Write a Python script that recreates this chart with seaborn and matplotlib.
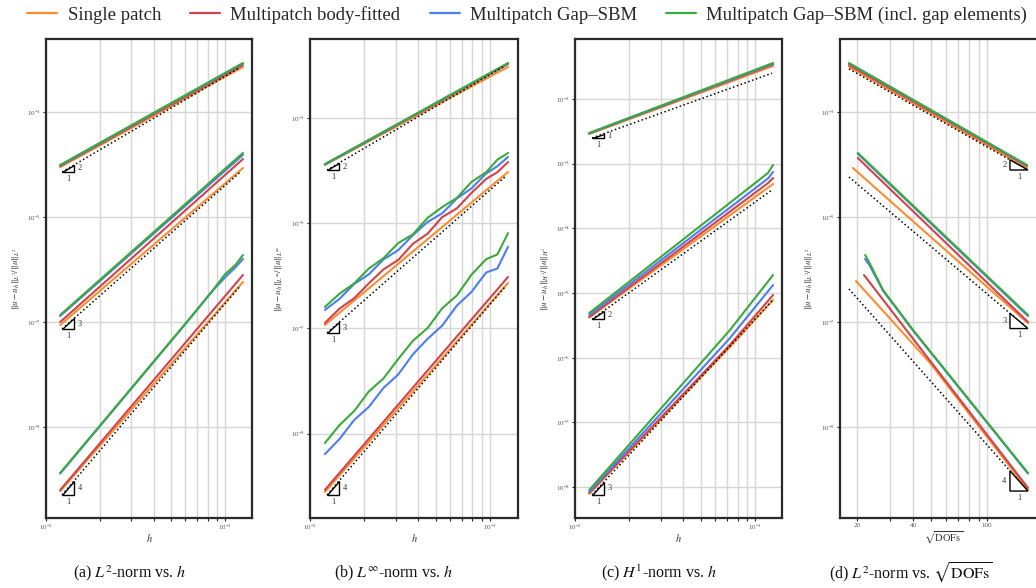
import matplotlib
matplotlib.use("Agg")
import matplotlib.pyplot as plt
import seaborn as sns
from matplotlib.lines import Line2D
from matplotlib.patches import Polygon
from matplotlib.ticker import FixedLocator, FixedFormatter, NullFormatter, NullLocator

W, H, DPI = 1036, 588, 100

sns.set_theme(style="whitegrid")
plt.rcParams["font.family"] = ["Liberation Serif", "DejaVu Serif"]
plt.rcParams["mathtext.fontset"] = "stix"

METHODS = ["Single patch", "Multipatch body-fitted", "Multipatch Gap–SBM",
           "Multipatch Gap–SBM (incl. gap elements)"]
COLORS = ["#ff8c2e", "#d2434b", "#4c7df5", "#3baa3b"]

# ---------------- (a) relative L2 error vs h ----------------
a_h = [0.012, 0.126]
a1_single = [8.91e-5, 7.19e-3]
a1_body = [9.33e-5, 7.85e-3]
a1_gap = [9.60e-5, 8.40e-3]
a1_gapel = [9.77e-5, 8.57e-3]
a2_single = [8.77e-8, 8.57e-5]
a2_body = [1.00e-7, 1.27e-4]
a2_gap = [1.30e-7, 1.52e-4]
a2_gapel = [1.36e-7, 1.66e-4]
a3_single = [6.03e-11, 5.78e-7]
a3_body = [6.31e-11, 7.85e-7]
a3_h_fine = [0.012, 0.030, 0.060, 0.0857, 0.100, 0.115, 0.126]
a3_gap = [1.30e-10, 5.40e-9, 9.10e-8, 4.00e-7, 7.05e-7, 1.12e-6, 1.585e-6]
a3_gapel = [1.33e-10, 5.52e-9, 9.23e-8, 4.07e-7, 8.09e-7, 1.247e-6, 1.888e-6]
a_ref_h = [0.01229, 0.1213]
a1_ref = [7.19e-5, 7.02e-3]
a2_ref = [7.36e-8, 7.08e-5]
a3_ref = [5.07e-11, 4.81e-7]

# ---------------- (b) relative Linf error vs h ----------------
b_h = [0.0121, 0.126]
b_h_fine = [0.0121, 0.0146, 0.0176, 0.0212, 0.0256, 0.0309, 0.0373,
            0.0450, 0.0543, 0.0655, 0.0790, 0.0953, 0.1100, 0.1260]
b1_single = [1.29e-4, 9.33e-3]
b1_body = [1.30e-4, 1.06e-2]
b1_gap = [1.31e-4, 1.09e-2]
b1_gapel = [1.33e-4, 1.11e-2]
b2_single = [1.16e-7, 9.40e-5]
b2_body = [1.268e-7, 2.382e-7, 3.741e-7, 7.145e-7, 1.324e-6, 1.995e-6, 4.055e-6,
           6.310e-6, 1.309e-5, 1.914e-5, 3.776e-5, 6.950e-5, 9.311e-5, 1.455e-4]
b2_gap = [2.239e-7, 3.648e-7, 6.998e-7, 1.059e-6, 2.046e-6, 3.069e-6, 5.916e-6,
          1.052e-5, 1.542e-5, 2.951e-5, 4.603e-5, 8.831e-5, 1.211e-4, 1.816e-4]
b2_gapel = [2.553e-7, 4.571e-7, 7.161e-7, 1.371e-6, 2.158e-6, 4.178e-6, 6.138e-6,
            1.259e-5, 2.028e-5, 3.027e-5, 6.095e-5, 9.310e-5, 1.614e-4, 2.163e-4]
b3_single = [7.76e-11, 7.30e-7]
b3_body = [8.51e-11, 9.48e-7]
b3_gap = [4.074e-10, 7.907e-10, 1.816e-9, 3.199e-9, 7.379e-9, 1.324e-8, 3.199e-8,
          6.324e-8, 1.132e-7, 2.716e-7, 4.943e-7, 1.156e-6, 1.377e-6, 3.548e-6]
b3_gapel = [6.607e-10, 1.455e-9, 2.685e-9, 6.295e-9, 1.117e-8, 2.606e-8, 5.808e-8,
            1.012e-7, 2.415e-7, 4.236e-7, 1.052e-6, 2.070e-6, 2.547e-6, 6.457e-6]
b_ref_h = [0.01243, 0.1212]
b1_ref = [1.026e-4, 9.75e-3]
b2_ref = [8.19e-8, 7.59e-5]
b3_ref = [6.81e-11, 6.15e-7]

# ---------------- (c) relative H1 error vs h ----------------
c_h = [0.012, 0.126]
c1_single = [2.88e-3, 3.24e-2]
c1_body = [2.93e-3, 3.42e-2]
c1_gap = [2.95e-3, 3.50e-2]
c1_gapel = [2.98e-3, 3.60e-2]
c2_h = [0.012, 0.118, 0.126]
c2_single = [4.20e-6, 4.27e-4, 4.85e-4]
c2_body = [4.27e-6, 5.01e-4, 6.01e-4]
c2_gap = [4.59e-6, 5.89e-4, 7.45e-4]
c2_gapel = [4.92e-6, 7.18e-4, 9.55e-4]
c3_h = [0.012, 0.0726, 0.126]
c3_single = [7.90e-9, 1.469e-6, 7.82e-6]
c3_body = [8.13e-9, 1.585e-6, 9.33e-6]
c3_gap = [8.51e-9, 2.02e-6, 1.334e-5]
c3_gapel = [9.06e-9, 2.69e-6, 1.905e-5]
c_ref_h = [0.01243, 0.1243]
c1_ref = [2.50e-3, 2.50e-2]
c2_ref = [3.93e-6, 3.93e-4]
c3_ref = [7.59e-9, 7.59e-6]

# ---------------- (d) relative L2 error vs sqrt(DOFs) ----------------
d1_x = [18.1, 164.0]
d1_single = [7.19e-3, 8.57e-5]
d1_body = [7.85e-3, 9.33e-5]
d1_gap = [8.40e-3, 9.60e-5]
d1_gapel = [8.57e-3, 9.77e-5]
d2_x_single = [19.0, 166.0]
d2_x_multi = [20.2, 166.0]
d2_single = [8.57e-5, 9.55e-8]
d2_body = [1.33e-4, 1.00e-7]
d2_gap = [1.60e-4, 1.30e-7]
d2_gapel = [1.66e-4, 1.36e-7]
d3_x_single = [19.75, 49.4, 166.0]
d3_single = [6.03e-7, 1.66e-8, 6.31e-11]
d3_x_body = [21.8, 166.0]
d3_body = [7.85e-7, 6.92e-11]
d3_x_gap = [22.1, 23.3, 27.6, 40.0, 166.0]
d3_gap = [1.585e-6, 1.22e-6, 3.95e-7, 6.90e-8, 1.30e-10]
d3_x_gapel = [22.1, 23.2, 27.6, 40.0, 166.0]
d3_gapel = [1.888e-6, 1.39e-6, 4.07e-7, 7.05e-8, 1.33e-10]
d_ref_x = [18.1, 166.0]
d1_ref = [6.61e-3, 7.85e-5]
d2_ref = [5.78e-5, 7.50e-8]
d3_ref = [4.26e-7, 6.03e-11]

fig = plt.figure(figsize=(W / DPI, H / DPI), dpi=DPI)
fig.patch.set_facecolor("white")

TOP, BOTTOM = 39, 518


def add_axes_px(left, right):
    return fig.add_axes([left / W, 1 - BOTTOM / H, (right - left) / W, (BOTTOM - TOP) / H])


def line(ax, x, y, color):
    sns.lineplot(x=x, y=y, ax=ax, color=color, linewidth=1.5, estimator=None,
                 sort=False, legend=False, zorder=3)


def ref_line(ax, x, y):
    sns.lineplot(x=x, y=y, ax=ax, color="black", linewidth=1.1, linestyle=":",
                 estimator=None, sort=False, legend=False, zorder=4)


def triangle(ax, x, y, rate, factor, at_start=True):
    if at_start:
        x0, y0 = x[0], y[0]
        x1 = x0 * factor
        y1 = y0 * factor ** rate
        pts = [(x0, y0), (x1, y0), (x1, y1)]
        ax.annotate(str(rate), (x1, (y0 * y1) ** 0.5), xytext=(2.5, 0),
                    textcoords="offset points", ha="left", va="center",
                    fontsize=6, color="#333333", zorder=6)
    else:
        x0, y0 = x[-1], y[-1]
        xb = x0 / factor
        yb = y0 * factor ** rate
        pts = [(xb, y0), (x0, y0), (xb, yb)]
        ax.annotate(str(rate), (xb, (y0 * yb) ** 0.5), xytext=(-2.5, 0),
                    textcoords="offset points", ha="right", va="center",
                    fontsize=6, color="#333333", zorder=6)
    xm = (pts[0][0] * pts[1][0]) ** 0.5
    ax.annotate("1", (xm, y0), xytext=(0, -2), textcoords="offset points",
                ha="center", va="top", fontsize=6, color="#333333", zorder=6)
    ax.add_patch(Polygon(pts, closed=True, facecolor="white", edgecolor="black",
                         linewidth=1.0, zorder=5))


def style_axes(ax, xlim, ylim, yticks, ylabel, xlabel, width_px):
    ax.set_xscale("log")
    ax.set_yscale("log")
    ax.set_xlim(*xlim)
    ax.set_ylim(*ylim)
    ax.yaxis.set_major_locator(FixedLocator(yticks))
    ax.yaxis.set_minor_locator(NullLocator())
    ax.grid(False)
    ax.grid(True, which="major", axis="both", color="#d6d6d6", linewidth=1.0, zorder=0)
    ax.grid(True, which="minor", axis="x", color="#d6d6d6", linewidth=1.0, zorder=0)
    ax.set_axisbelow(True)
    for s in ax.spines.values():
        s.set_visible(True)
        s.set_color("#2a2a2a")
        s.set_linewidth(1.6)
    ax.tick_params(which="both", bottom=True, left=True, direction="out",
                   length=2.0, width=0.8, color="#222222",
                   labelsize=5, labelcolor="#555555", pad=1.5)
    ax.tick_params(axis="y", which="minor", left=False)
    ax.set_ylabel(ylabel, fontsize=6.5, color="#333333")
    ax.yaxis.label.set_verticalalignment("center")
    ax.yaxis.set_label_coords(-31 / width_px, 0.5)
    ax.set_xlabel(xlabel, fontsize=7.5, color="#333333")
    ax.xaxis.label.set_verticalalignment("center")
    ax.xaxis.set_label_coords(0.5, -20 / (BOTTOM - TOP))


def h_axis(ax):
    ax.xaxis.set_major_locator(FixedLocator([1e-2, 1e-1]))
    ax.xaxis.set_minor_locator(FixedLocator([k * 1e-2 for k in range(2, 10)]))
    ax.xaxis.set_minor_formatter(NullFormatter())


def draw_groups(ax, groups):
    for xs, ys in groups:
        for x, y, c in zip(xs, ys, COLORS):
            line(ax, x, y, c)


L2_LABEL = r"$\Vert u - u_h\Vert_{L^2}/\Vert u\Vert_{L^2}$"

# (a)
ax_a = add_axes_px(46, 252)
draw_groups(ax_a, [
    ([a_h] * 4, [a1_single, a1_body, a1_gap, a1_gapel]),
    ([a_h] * 4, [a2_single, a2_body, a2_gap, a2_gapel]),
    ([a_h, a_h, a3_h_fine, a3_h_fine], [a3_single, a3_body, a3_gap, a3_gapel]),
])
for r, ref in zip([2, 3, 4], [a1_ref, a2_ref, a3_ref]):
    ref_line(ax_a, a_ref_h, ref)
    triangle(ax_a, a_ref_h, ref, r, 10 ** (12 / 179))
style_axes(ax_a, (1e-2, 10 ** -0.849), (10 ** -10.733, 10 ** -1.61),
           [1e-9, 1e-7, 1e-5, 1e-3], L2_LABEL, r"$h$", 206)
h_axis(ax_a)

# (b)
ax_b = add_axes_px(310, 518)
draw_groups(ax_b, [
    ([b_h] * 4, [b1_single, b1_body, b1_gap, b1_gapel]),
    ([b_h, b_h_fine, b_h_fine, b_h_fine], [b2_single, b2_body, b2_gap, b2_gapel]),
    ([b_h, b_h, b_h_fine, b_h_fine], [b3_single, b3_body, b3_gap, b3_gapel]),
])
for r, ref in zip([2, 3, 4], [b1_ref, b2_ref, b3_ref]):
    ref_line(ax_b, b_ref_h, ref)
    triangle(ax_b, b_ref_h, ref, r, 10 ** (12 / 180))
style_axes(ax_b, (1e-2, 10 ** -0.844), (10 ** -10.605, 10 ** -1.498),
           [1e-9, 1e-7, 1e-5, 1e-3],
           r"$\Vert u - u_h\Vert_{L^\infty}/\Vert u\Vert_{L^\infty}$", r"$h$", 208)
h_axis(ax_b)

# (c)
ax_c = add_axes_px(575, 782)
draw_groups(ax_c, [
    ([c_h] * 4, [c1_single, c1_body, c1_gap, c1_gapel]),
    ([c2_h] * 4, [c2_single, c2_body, c2_gap, c2_gapel]),
    ([c3_h] * 4, [c3_single, c3_body, c3_gap, c3_gapel]),
])
for r, ref in zip([1, 2, 3], [c1_ref, c2_ref, c3_ref]):
    ref_line(ax_c, c_ref_h, ref)
    triangle(ax_c, c_ref_h, ref, r, 10 ** (12 / 180))
style_axes(ax_c, (1e-2, 10 ** -0.85), (10 ** -8.476, 10 ** -1.073),
           [1e-8, 1e-7, 1e-6, 1e-5, 1e-4, 1e-3, 1e-2],
           r"$\Vert u - u_h\Vert_{H^1}/\Vert u\Vert_{H^1}$", r"$h$", 207)
h_axis(ax_c)

# (d) extends past the right edge of the canvas
ax_d = add_axes_px(840, 1047)
draw_groups(ax_d, [
    ([d1_x] * 4, [d1_single, d1_body, d1_gap, d1_gapel]),
    ([d2_x_single, d2_x_multi, d2_x_multi, d2_x_multi],
     [d2_single, d2_body, d2_gap, d2_gapel]),
    ([d3_x_single, d3_x_body, d3_x_gap, d3_x_gapel],
     [d3_single, d3_body, d3_gap, d3_gapel]),
])
for r, ref in zip([2, 3, 4], [d1_ref, d2_ref, d3_ref]):
    ref_line(ax_d, d_ref_x, ref)
    triangle(ax_d, d_ref_x, ref, r, 10 ** (18 / 186), at_start=False)
style_axes(ax_d, (10 ** 1.2096, 10 ** 2.3225), (10 ** -10.733, 10 ** -1.61),
           [1e-9, 1e-7, 1e-5, 1e-3], L2_LABEL, r"$\sqrt{\mathrm{DOFs}}$", 207)
ax_d.xaxis.set_major_locator(FixedLocator([20, 40, 100, 200]))
ax_d.xaxis.set_major_formatter(FixedFormatter(["20", "40", "100", "200"]))
ax_d.xaxis.set_minor_locator(FixedLocator([30, 50, 60, 70, 80, 90]))
ax_d.xaxis.set_minor_formatter(NullFormatter())

# legend across the top
handles = [Line2D([0], [0], color=c, lw=1.6) for c in COLORS]
fig.legend(handles, METHODS, loc="center", bbox_to_anchor=(0.509, 1 - 15 / H),
           ncol=4, frameon=False, fontsize=13.5, handlelength=1.6,
           handletextpad=0.55, columnspacing=1.55)

# sub-captions
captions = [r"(a) $L^2$-norm vs. $h$", r"(b) $L^\infty$-norm vs. $h$",
            r"(c) $H^1$-norm vs. $h$", r"(d) $L^2$-norm vs. $\sqrt{\mathrm{DOFs}}$"]
for cx, text in zip([130, 394, 659, 911], captions):
    fig.text(cx / W, 1 - 573 / H, text, ha="center", va="center", fontsize=11.5,
             color="#111111")

fig.savefig("out.png", dpi=DPI)
